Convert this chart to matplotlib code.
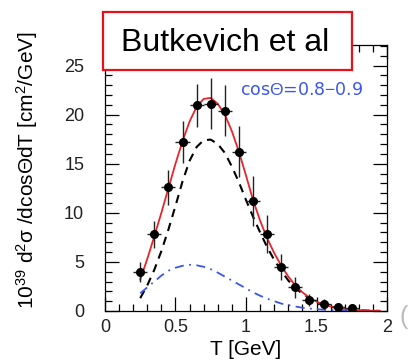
import matplotlib
matplotlib.use("Agg")
import matplotlib.pyplot as plt
from matplotlib.ticker import MultipleLocator, FormatStrFormatter
from matplotlib.patches import Rectangle

plt.rcParams['font.family'] = ['Liberation Sans', 'DejaVu Sans']
plt.rcParams['mathtext.fontset'] = 'custom'
plt.rcParams['mathtext.rm'] = 'Liberation Sans'
plt.rcParams['mathtext.it'] = 'Liberation Sans'

# data points
T_pts = [0.25, 0.35, 0.45, 0.55, 0.65, 0.75, 0.85, 0.95,
         1.05, 1.15, 1.25, 1.35, 1.45, 1.55, 1.65, 1.75]
xs_pts = [4.0, 7.8, 12.6, 17.2, 20.95, 21.1, 20.4, 16.2,
          11.2, 7.85, 4.5, 2.4, 1.1, 0.7, 0.4, 0.35]
xs_err = [1.0, 1.4, 1.8, 2.1, 2.2, 2.6, 2.6, 2.6,
          2.5, 1.9, 1.35, 1.1, 0.6, 0.5, 0.3, 0.25]
T_err = 0.05

# model curves
T_curve = [0.25, 0.30, 0.35, 0.40, 0.45, 0.50, 0.55, 0.60, 0.65, 0.70,
           0.75, 0.80, 0.85, 0.90, 0.95, 1.00, 1.05, 1.10, 1.15, 1.20,
           1.25, 1.30, 1.35, 1.40, 1.45, 1.50, 1.55, 1.60, 1.65, 1.70,
           1.75, 1.80, 1.85, 1.90, 1.95]
total = [3.2, 5.3, 7.6, 10.0, 12.5, 15.0, 17.3, 19.3, 20.8, 21.6,
         21.7, 21.1, 20.0, 18.3, 16.2, 13.8, 11.3, 9.2, 7.4, 5.9,
         4.6, 3.5, 2.6, 1.9, 1.35, 0.95, 0.65, 0.45, 0.3, 0.2,
         0.12, 0.07, 0.04, 0.02, 0.01]
qe = [1.3, 2.6, 4.2, 6.1, 8.3, 10.7, 13.2, 15.3, 16.7, 17.4,
      17.45, 17.0, 16.1, 14.7, 13.1, 11.3, 9.6, 8.0, 6.5, 5.2,
      4.1, 3.1, 2.35, 1.75, 1.3, 0.9, 0.65, 0.45, 0.3, 0.2,
      0.12, 0.07, 0.04, 0.02, 0.0]
other = [1.8, 2.4, 3.0, 3.6, 4.1, 4.4, 4.6, 4.7, 4.65, 4.5,
         4.25, 3.9, 3.5, 3.1, 2.7, 2.3, 1.9, 1.55, 1.25, 1.0,
         0.75, 0.6, 0.45, 0.33, 0.25, 0.18, 0.13, 0.09, 0.06, 0.04,
         0.03, 0.02, 0.01, 0.01, 0.0]

fig = plt.figure(figsize=(4.10, 3.62), dpi=100)
ax = fig.add_axes([0.256, 0.141, 0.688, 0.735])

ax.plot(T_curve, qe, color='black', ls=(0, (4, 3)), lw=1.5)
ax.plot(T_curve, other, color='#3a55f0', ls=(0, (5, 3, 1, 3)), lw=1.3)
ax.plot(T_curve, total, color='#e8252a', lw=1.3)
ax.errorbar(T_pts, xs_pts, xerr=T_err, yerr=xs_err, fmt='o', color='black',
            ms=5.5, elinewidth=1.0, ecolor='#222222', capsize=0)

ax.set_xlim(0, 2)
ax.set_ylim(0, 27.1)
ax.xaxis.set_major_locator(MultipleLocator(0.5))
ax.xaxis.set_minor_locator(MultipleLocator(0.1))
ax.xaxis.set_major_formatter(FormatStrFormatter('%g'))
ax.yaxis.set_major_locator(MultipleLocator(5))
ax.yaxis.set_minor_locator(MultipleLocator(1))
ax.tick_params(which='both', direction='in', top=True, right=True,
               labelsize=13, colors='black', labelcolor='#222222')
ax.tick_params(which='major', length=10, width=0.9)
ax.tick_params(which='minor', length=5, width=0.9)
ax.tick_params(axis='y', which='major', pad=15)
ax.tick_params(axis='x', which='major', pad=6)
for s in ax.spines.values():
    s.set_linewidth(0.9)

ax.set_xlabel('T [GeV]', fontsize=15, va='center')
ax.xaxis.set_label_coords(0.5, -0.145)
ax.set_ylabel(r'10$^{39}$ d$^{2}$$\sigma$ /dcos$\Theta$dT [cm$^{2}$/GeV]',
              fontsize=15)
ax.yaxis.set_label_coords(-0.232, 0.53)

ax.text(0.957, 22.55, r'cos$\Theta$=0.8$-$0.9', color='#3a55f0',
        fontsize=12.5, family='DejaVu Sans', ha='left', va='center')

fig.add_artist(Rectangle((0.251, 0.807), 0.607, 0.160, transform=fig.transFigure,
                         fc='white', ec='#e8101a', lw=1.6, zorder=5))
fig.text(0.549, 0.881, 'Butkevich et al', fontsize=23, ha='center', va='center',
         zorder=6)

fig.text(0.975, 0.125, '(', fontsize=18, color='#bbbbbb', ha='left', va='center')

fig.savefig('out.png', dpi=100)
